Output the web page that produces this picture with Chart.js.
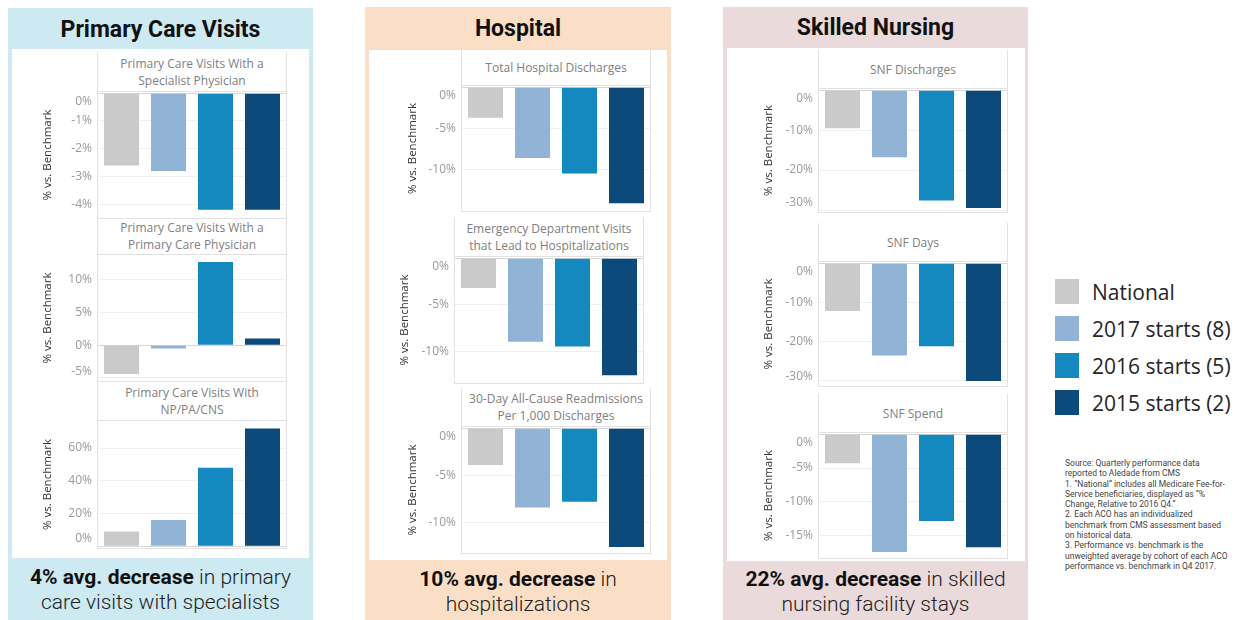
<!DOCTYPE html>
<html>
<head>
<meta charset="utf-8">
<script src="https://cdn.jsdelivr.net/npm/chart.js@4.4.1/dist/chart.umd.min.js"></script>
<style>
  html, body { margin: 0; padding: 0; }
  body { width: 1242px; height: 620px; position: relative; overflow: hidden; background: #fff; font-family: Roboto, "Noto Sans", sans-serif; }
  .bg { position: absolute; }
  .inner { position: absolute; background: #fff; }
  .colTitle { position: absolute; text-align: center; font-weight: 700; font-size: 23px; color: #111; white-space: nowrap; }
  .caption { position: absolute; text-align: center; font-size: 21px; font-weight: 300; line-height: 25px; color: #222; white-space: nowrap; }
  .caption b { font-weight: 700; color: #111; }
  .frame { position: absolute; box-sizing: border-box; border-left: 1px solid #e2e2e2; border-right: 1px solid #e2e2e2; border-bottom: 1px solid #e2e2e2; }
  .hdr { position: absolute; box-sizing: border-box; border-bottom: 1px solid #e2e2e2; display: flex; align-items: center; justify-content: center; text-align: center; font-family: "Open Sans", sans-serif; font-size: 12px; line-height: 17px; color: #808080; white-space: nowrap; }
  .legend { position: absolute; left: 1055px; top: 279px; font-family: "Open Sans", sans-serif; font-size: 21px; color: #262626; }
  .legend .row { display: flex; align-items: center; height: 25px; margin-bottom: 12px; }
  .legend .sw { width: 24px; height: 25px; margin-right: 13px; }
  .source { position: absolute; left: 1065px; top: 458px; font-family: Roboto, sans-serif; font-size: 8.5px; line-height: 10.3px; color: #444; white-space: nowrap; }
  canvas { position: absolute; z-index: 2; }
</style>
</head>
<body>
<script>
// Cohorts shown in every panel
const categories = ['National', '2017 starts (8)', '2016 starts (5)', '2015 starts (2)'];

// Performance vs. benchmark (%), one value per cohort
const specialistVisits   = [-2.6, -2.8, -4.2, -4.2];
const pcpVisits          = [-4.4, -0.5, 12.7, 1.0];
const npPaCnsVisits      = [9, 16, 48, 72];
const hospitalDischarges = [-3.7, -8.6, -10.5, -14.1];
const edVisitsToAdmit    = [-3.2, -9.0, -9.5, -12.6];
const readmissions       = [-3.9, -8.4, -7.8, -12.6];
const snfDischarges      = [-9.5, -16.8, -27.6, -29.5];
const snfDays            = [-12.2, -23.5, -21.2, -30.0];
const snfSpend           = [-4.3, -17.4, -12.8, -16.7];

// Y-axis tick values (labelled as percentages)
const ticksSpecialist = [0, -1, -2, -3, -4];
const ticksPcp        = [10, 5, 0, -5];
const ticksNpPaCns    = [60, 40, 20, 0];
const ticksHospital   = [0, -5, -10];
const ticksSnfCount   = [0, -10, -20, -30];
const ticksSnfSpend   = [0, -5, -10, -15];

const cohortColors = ['#cacaca', '#91b3d6', '#1389bf', '#0b4a7a'];

// Column backgrounds, headings and summary captions
const columns = [
  { x: [8, 313],   y: 8, inner: [12, 309, 49, 558],  bg: '#cde9f2', title: 'Primary Care Visits', titleY: 30,
    bold: '4% avg. decrease', rest: ' in primary', line2: 'care visits with specialists', capY: 565 },
  { x: [365, 671], y: 7, inner: [369, 667, 50, 560], bg: '#fadfc6', title: 'Hospital', titleY: 29,
    bold: '10% avg. decrease', rest: ' in', line2: 'hospitalizations', capY: 567 },
  { x: [723, 1028], y: 7, inner: [727, 1025, 48, 561], bg: '#ebdadb', title: 'Skilled Nursing', titleY: 28,
    bold: '22% avg. decrease', rest: ' in skilled', line2: 'nursing facility stays', capY: 567 }
];

// Small-multiple panels: header box, plot rectangle and value range
const panels = [
  { title: ['Primary Care Visits With a', 'Specialist Physician'], values: specialistVisits, ticks: ticksSpecialist,
    min: -4.45, max: 0, x: [98, 286], hdr: 52, plot: [92, 218], axisX: 48 },
  { title: ['Primary Care Visits With a', 'Primary Care Physician'], values: pcpVisits, ticks: ticksPcp,
    min: -5.3, max: 13.6, x: [98, 286], hdr: 218, plot: [255, 381], axisX: 48 },
  { title: ['Primary Care Visits With', 'NP/PA/CNS'], values: npPaCnsVisits, ticks: ticksNpPaCns,
    min: -0.3, max: 75.8, x: [98, 286], hdr: 382, plot: [421, 548], axisX: 48 },
  { title: ['Total Hospital Discharges'], values: hospitalDischarges, ticks: ticksHospital,
    min: -14.9, max: 0, x: [462, 650], hdr: 50, plot: [86, 211], axisX: 413 },
  { title: ['Emergency Department Visits', 'that Lead to Hospitalizations'], values: edVisitsToAdmit, ticks: ticksHospital,
    min: -13.3, max: 0, x: [455, 643], hdr: 217, plot: [257, 383], axisX: 405 },
  { title: ['30-Day All-Cause Readmissions', 'Per 1,000 Discharges'], values: readmissions, ticks: ticksHospital,
    min: -13.1, max: 0, x: [462, 650], hdr: 388, plot: [427, 553], axisX: 413 },
  { title: ['SNF Discharges'], values: snfDischarges, ticks: ticksSnfCount,
    min: -30.2, max: 0, x: [819, 1007], hdr: 50, plot: [89, 212], axisX: 769 },
  { title: ['SNF Days'], values: snfDays, ticks: ticksSnfCount,
    min: -31, max: 0, x: [819, 1007], hdr: 223, plot: [262, 386], axisX: 769 },
  { title: ['SNF Spend'], values: snfSpend, ticks: ticksSnfSpend,
    min: -18.1, max: 0, x: [819, 1007], hdr: 394, plot: [433, 558], axisX: 769 }
];

function el(tag, cls, css, html) {
  const e = document.createElement(tag);
  if (cls) e.className = cls;
  if (css) e.style.cssText = css;
  if (html !== undefined) e.innerHTML = html;
  document.body.appendChild(e);
  return e;
}

columns.forEach(c => {
  el('div', 'bg', `left:${c.x[0]}px;top:${c.y}px;width:${c.x[1] - c.x[0]}px;height:${620 - c.y}px;background:${c.bg}`);
  el('div', 'inner', `left:${c.inner[0]}px;top:${c.inner[2]}px;width:${c.inner[1] - c.inner[0]}px;height:${c.inner[3] - c.inner[2]}px`);
  el('div', 'colTitle', `left:${c.x[0]}px;width:${c.x[1] - c.x[0]}px;top:${c.titleY - 13}px;line-height:26px`, c.title);
  el('div', 'caption', `left:${c.x[0]}px;width:${c.x[1] - c.x[0]}px;top:${c.capY}px`,
     `<b>${c.bold}</b>${c.rest}<br>${c.line2}`);
});

// Keeps the outermost tick labels inside the plot band
const edgeLabelClamp = {
  id: 'edgeLabelClamp',
  beforeDraw(chart) {
    const s = chart.scales.y;
    const inset = 8;
    s.getLabelItems(chart.chartArea).forEach(item => {
      const t = item.options.translation;
      t[1] = Math.min(Math.max(t[1], s.top + inset), s.bottom - inset);
    });
  }
};

panels.forEach(p => {
  // frame and header box
  el('div', 'frame', `left:${p.x[0] - 1}px;top:${p.hdr}px;width:${p.x[1] - p.x[0] + 2}px;height:${p.plot[1] - p.hdr + 1}px`);
  el('div', 'hdr', `left:${p.x[0]}px;top:${p.hdr}px;width:${p.x[1] - p.x[0]}px;height:${p.plot[0] - p.hdr}px`,
     '<div>' + p.title.join('<br>') + '</div>');

  const pad = 12;
  const left = Math.round(p.axisX - 7);
  const top = p.plot[0] - pad;
  const w = p.x[1] - left;
  const h = p.plot[1] + pad - top;
  const canvas = el('canvas', null, `left:${left}px;top:${top}px;width:${w}px;height:${h}px`);
  canvas.width = w;
  canvas.height = h;

  new Chart(canvas, {
    type: 'bar',
    data: {
      labels: categories,
      datasets: [{
        data: p.values,
        backgroundColor: cohortColors,
        borderWidth: 0,
        categoryPercentage: 1,
        barPercentage: 0.745
      }]
    },
    options: {
      responsive: false,
      animation: false,
      events: [],
      layout: { padding: { top: pad, bottom: pad, left: 0, right: 0 } },
      plugins: { legend: { display: false }, tooltip: { enabled: false } },
      scales: {
        x: { display: false },
        y: {
          min: p.min,
          max: p.max,
          afterFit: s => { s.width = p.x[0] - left; },
          afterBuildTicks: s => { s.ticks = p.ticks.map(v => ({ value: v })); },
          border: { display: false },
          grid: {
            drawTicks: false,
            color: ctx => (ctx.tick && ctx.tick.value === 0) ? '#d6d6d6' : '#f0f0f0'
          },
          ticks: {
            padding: 6,
            color: '#9a9a9a',
            font: { family: 'Open Sans', size: 12 },
            callback: v => v + '%'
          },
          title: {
            display: true,
            text: '% vs. Benchmark',
            color: '#333',
            padding: 0,
            font: { family: 'Open Sans', size: 11.5 }
          }
        }
      }
    },
    plugins: [edgeLabelClamp]
  });
});

// Legend
const legend = el('div', 'legend');
categories.forEach((name, i) => {
  const row = document.createElement('div');
  row.className = 'row';
  row.innerHTML = `<div class="sw" style="background:${cohortColors[i]}"></div><span>${name}</span>`;
  legend.appendChild(row);
});

// Source notes
el('div', 'source', '',
  'Source: Quarterly performance data<br>' +
  'reported to Aledade from CMS<br>' +
  '1. “National” includes all Medicare Fee-for-<br>' +
  'Service beneficiaries, displayed as “%<br>' +
  'Change, Relative to 2016 Q4.”<br>' +
  '2. Each ACO has an individualized<br>' +
  'benchmark from CMS assessment based<br>' +
  'on historical data.<br>' +
  '3. Performance vs. benchmark is the<br>' +
  'unweighted average by cohort of each ACO<br>' +
  'performance vs. benchmark in Q4 2017.');
</script>
</body>
</html>
